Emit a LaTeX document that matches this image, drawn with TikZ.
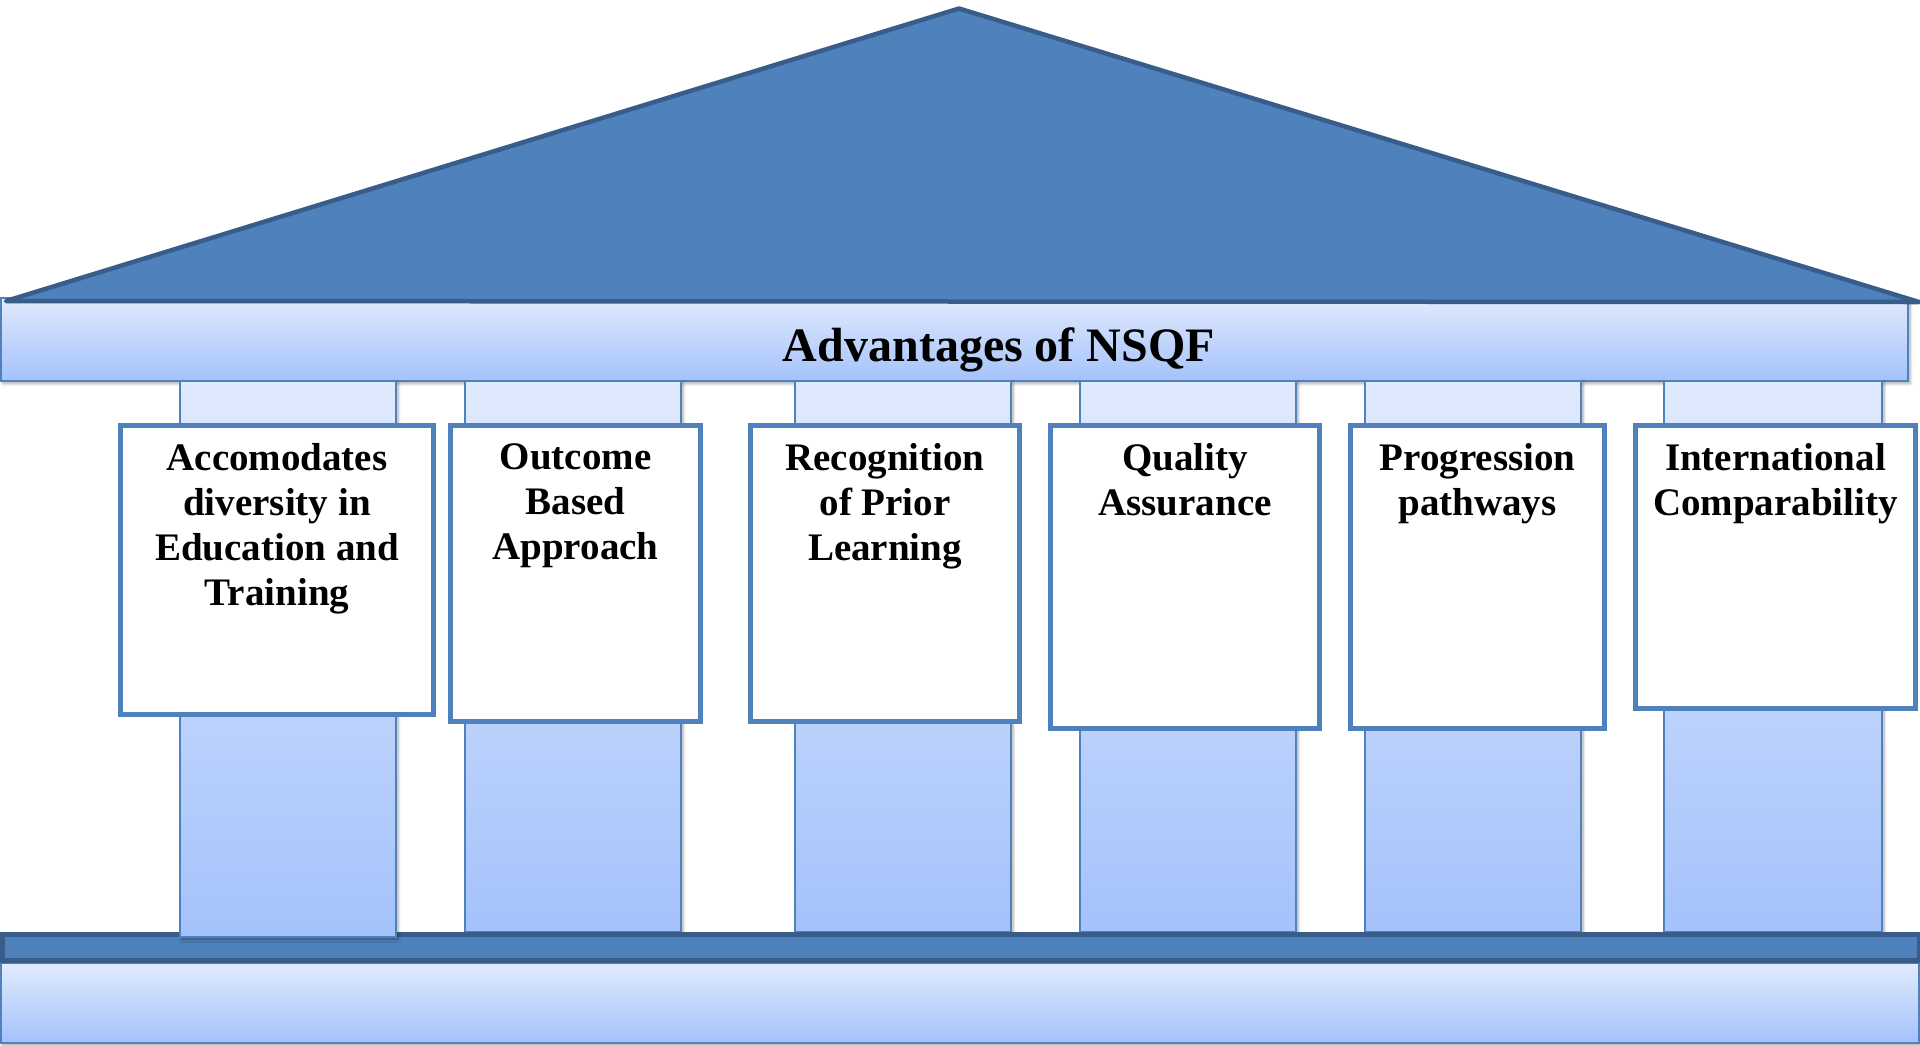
\documentclass[tikz,border=0pt]{standalone}
\usepackage{fontspec}
\setmainfont{Liberation Serif}
\usetikzlibrary{shadows.blur}
\definecolor{midblue}{HTML}{4F81BD}
\definecolor{darkblue}{HTML}{385D8A}
\definecolor{paleA}{HTML}{E0EAFD}
\definecolor{paleB}{HTML}{A4C2FB}
\begin{document}
\begin{tikzpicture}[x=1pt,y=-1pt,
  softshadow/.style={blur shadow={shadow xshift=2pt, shadow yshift=-2.5pt, shadow blur radius=3pt, shadow blur steps=6, shadow opacity=35}},
  pillar/.style={draw=midblue, line width=2pt, top color=paleA, bottom color=paleB, softshadow},
  slab/.style={draw=darkblue, fill=midblue, line width=5pt},
  boxstyle/.style={draw=midblue, line width=5pt, fill=white, inner sep=0pt},
  boxtext/.style={font=\bfseries\fontsize{39}{45}\selectfont, align=center, inner sep=0pt, anchor=north},
]
\useasboundingbox (0,0) rectangle (1920,1045);

% architrave
\path[pillar] (1,298) rectangle (1908,381);
% roof
\draw[fill=midblue, draw=darkblue, line width=4.5pt, line join=round] (6,301) -- (959,8.5) -- (1919,302) -- cycle;

% columns 2-6
\path[pillar] (465,381) rectangle (681,932);
\path[pillar] (795,381) rectangle (1011,932);
\path[pillar] (1080,381) rectangle (1296,932);
\path[pillar] (1365,381) rectangle (1581,932);
\path[pillar] (1664,381) rectangle (1882,932);

% base
\path[pillar] (1,963) rectangle (1919,1043);
\draw[slab] (2.5,934.5) rectangle (1919,960.5);

% column 1 (in front of plinth)
\path[pillar] (180,381) rectangle (396,937);

% boxes
\node[boxstyle, minimum width=313pt, minimum height=289pt] (b1) at (277,570) {};
\node[boxstyle, minimum width=250pt, minimum height=296pt] (b2) at (575.5,573.5) {};
\node[boxstyle, minimum width=269pt, minimum height=296pt] (b3) at (885,573.5) {};
\node[boxstyle, minimum width=269pt, minimum height=303pt] (b4) at (1185,577) {};
\node[boxstyle, minimum width=254pt, minimum height=303pt] (b5) at (1477.5,577) {};
\node[boxstyle, minimum width=280pt, minimum height=283pt] (b6) at (1775.5,567) {};

\node[boxtext] (t1) at ([yshift=-20pt]b1.north) {Accomodates\\diversity in\\Education and\\Training};
\node[boxtext] (t2) at ([yshift=-20pt]b2.north) {Outcome\\Based\\Approach};
\node[boxtext] (t3) at ([yshift=-20pt]b3.north) {Recognition\\of Prior\\Learning};
\node[boxtext] (t4) at ([yshift=-20pt]b4.north) {Quality\\Assurance};
\node[boxtext] (t5) at ([yshift=-20pt]b5.north) {Progression\\pathways};
\node[boxtext] (t6) at ([yshift=-20pt]b6.north) {International\\Comparability};

% title
\node[font=\bfseries\fontsize{48}{52}\selectfont, anchor=base, inner sep=0pt] (title) at (999,361) {Advantages of NSQF};
\end{tikzpicture}
\end{document}
